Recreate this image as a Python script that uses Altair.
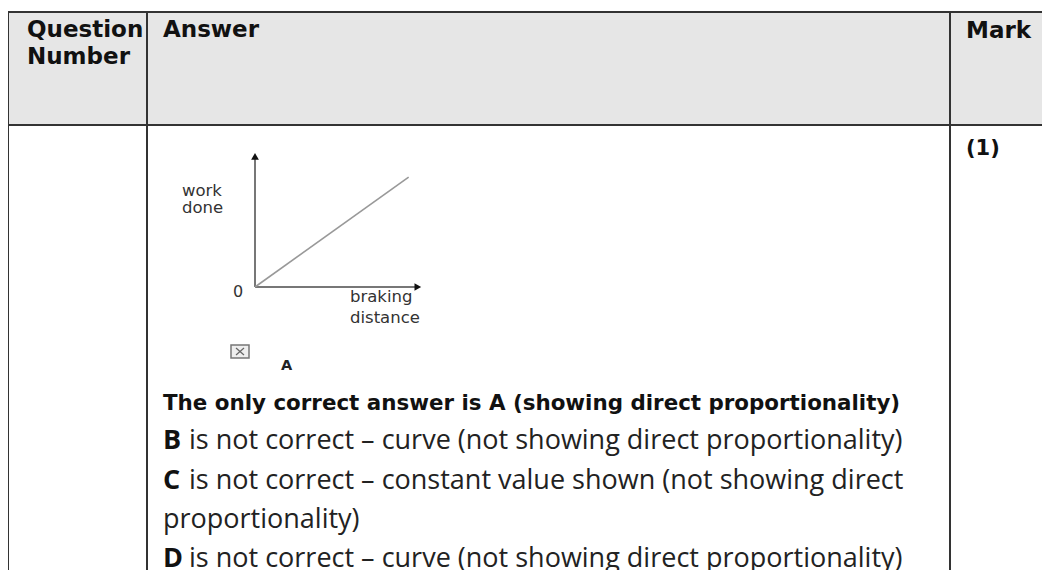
import altair as alt
import pandas as pd

# ---------------- content ----------------
header_labels = ["Question", "Number", "Answer", "Mark"]
mark_labels = ["(1)"]
correct_line = ["The only correct answer is A (showing direct proportionality)"]
option_letters = ["B", "C", "D"]
option_texts = [
    "is not correct \u2013 curve (not showing direct proportionality)",
    "is not correct \u2013 constant value shown (not showing direct",
    "is not correct \u2013 curve (not showing direct proportionality)",
]
continuation = ["proportionality)"]
graph_y_label = ["work", "done"]
graph_x_label = ["braking", "distance"]
graph_origin = ["0"]
choice_letter = ["A"]
# the small sketch graph (straight line through the origin)
braking_distance = [0, 9.2]
work_done = [0, 8.2]

# ---------------- layout (page pixels) ----------------
W, H = 1034, 562
page_x = alt.Scale(domain=[8, 8 + W], range=[0, W], nice=False, zero=False)
page_y = alt.Scale(domain=[8, 8 + H], range=[0, H], nice=False, zero=False)
graph_x = alt.Scale(domain=[0, 10], range=[247, 414], nice=False, zero=False)
graph_y = alt.Scale(domain=[0, 10], range=[279, 145], nice=False, zero=False)

header_pos = [(27, 37), (27, 64), (163, 37), (966, 38)]
mark_pos = [(966, 155)]
correct_pos = [(163, 410)]
letter_pos = [(163, 449), (163, 489), (163, 567)]
option_pos = [(189, 449), (189, 489), (189, 567)]
cont_pos = [(163, 528)]
ylab_pos = [(182, 196), (182, 213)]
xlab_pos = [(350, 302), (350, 323)]
origin_pos = [(233, 297)]
choice_pos = [(281, 370)]

RIGHT = 8 + W
grid_lines = pd.DataFrame({
    "x": [8, 8, 8, 147, 950],
    "x2": [RIGHT, RIGHT, 8, 147, 950],
    "y": [12, 125, 12, 12, 12],
    "y2": [12, 125, 570, 570, 570],
})
header_fill = pd.DataFrame({"x": [8], "x2": [RIGHT], "y": [12], "y2": [125]})
box = pd.DataFrame({"x": [231], "x2": [249], "y": [345], "y2": [358]})
box_cross = pd.DataFrame({"x": [236, 236], "x2": [244, 244], "y": [348, 355], "y2": [355, 348]})


def tdf(labels, pos):
    return pd.DataFrame({"t": labels, "x": [p[0] for p in pos], "y": [p[1] for p in pos]})


def text_layer(df, font, size, weight, color):
    return alt.Chart(df).mark_text(
        align="left", baseline="alphabetic", font=font, fontSize=size,
        fontWeight=weight, color=color
    ).encode(
        x=alt.X("x:Q", scale=page_x, axis=None),
        y=alt.Y("y:Q", scale=page_y, axis=None),
        text="t:N",
    )


def seg_layer(df, color, width):
    return alt.Chart(df).mark_rule(color=color, strokeWidth=width).encode(
        x=alt.X("x:Q", scale=page_x, axis=None), x2="x2:Q",
        y=alt.Y("y:Q", scale=page_y, axis=None), y2="y2:Q",
    )


bg = alt.Chart(header_fill).mark_rect(color="#e6e6e6").encode(
    x=alt.X("x:Q", scale=page_x, axis=None), x2="x2:Q",
    y=alt.Y("y:Q", scale=page_y, axis=None), y2="y2:Q",
)
lines = seg_layer(grid_lines, "#333333", 2)

boxrect = alt.Chart(box).mark_rect(fill="#eeeeee", stroke="#777777", strokeWidth=1.5).encode(
    x=alt.X("x:Q", scale=page_x, axis=None), x2="x2:Q",
    y=alt.Y("y:Q", scale=page_y, axis=None), y2="y2:Q",
)
boxx = seg_layer(box_cross, "#666666", 1.2)

BOLD = "DejaVu Sans"
BODY = "Open Sans"

t_header = text_layer(tdf(header_labels, header_pos), BOLD, 23, "bold", "#111111")
t_mark = text_layer(tdf(mark_labels, mark_pos), BOLD, 21, "bold", "#111111")
t_correct = text_layer(tdf(correct_line, correct_pos), BOLD, 21.4, "bold", "#111111")
t_letters = text_layer(tdf(option_letters, letter_pos), BODY, 27, "bold", "#111111")
t_options = text_layer(tdf(option_texts, option_pos), BODY, 27, "normal", "#222222")
t_cont = text_layer(tdf(continuation, cont_pos), BODY, 27, "normal", "#222222")
t_ylab = text_layer(tdf(graph_y_label, ylab_pos), "DejaVu Sans", 16.5, "normal", "#333333")
t_xlab = text_layer(tdf(graph_x_label, xlab_pos), "DejaVu Sans", 16.5, "normal", "#333333")
t_origin = text_layer(tdf(graph_origin, origin_pos), "DejaVu Sans", 16, "normal", "#333333")
t_choice = text_layer(tdf(choice_letter, choice_pos), "DejaVu Sans", 14.5, "bold", "#222222")

# sketch graph axes with arrowheads
axes_df = pd.DataFrame({"x": [0, 0], "x2": [9.75, 0], "y": [0, 0], "y2": [0, 9.75]})
g_axes = alt.Chart(axes_df).mark_rule(color="#777777", strokeWidth=2).encode(
    x=alt.X("x:Q", scale=graph_x, axis=None), x2="x2:Q",
    y=alt.Y("y:Q", scale=graph_y, axis=None), y2="y2:Q",
)
arrow_df = pd.DataFrame({"x": [9.75, 0], "y": [0, 9.75], "shape": ["triangle-right", "triangle-up"]})
g_arrows = alt.Chart(arrow_df).mark_point(filled=True, color="#111111", size=60, opacity=1).encode(
    x=alt.X("x:Q", scale=graph_x, axis=None),
    y=alt.Y("y:Q", scale=graph_y, axis=None),
    shape=alt.Shape("shape:N", scale=None, legend=None),
)
g_line = alt.Chart(pd.DataFrame({"bd": braking_distance, "wd": work_done})).mark_line(
    color="#999999", strokeWidth=1.6
).encode(
    x=alt.X("bd:Q", scale=graph_x, axis=None),
    y=alt.Y("wd:Q", scale=graph_y, axis=None),
)

chart = alt.layer(
    bg, lines, g_axes, g_line, g_arrows, boxrect, boxx,
    t_header, t_mark, t_correct, t_letters, t_options, t_cont,
    t_ylab, t_xlab, t_origin, t_choice,
).resolve_scale(
    x="independent", y="independent"
).properties(
    width=W, height=H, padding=0, autosize=alt.AutoSizeParams(type="none"),
    background="white",
).configure_view(stroke=None)

chart.save("out.html", embed_options={"renderer": "svg", "actions": False})
